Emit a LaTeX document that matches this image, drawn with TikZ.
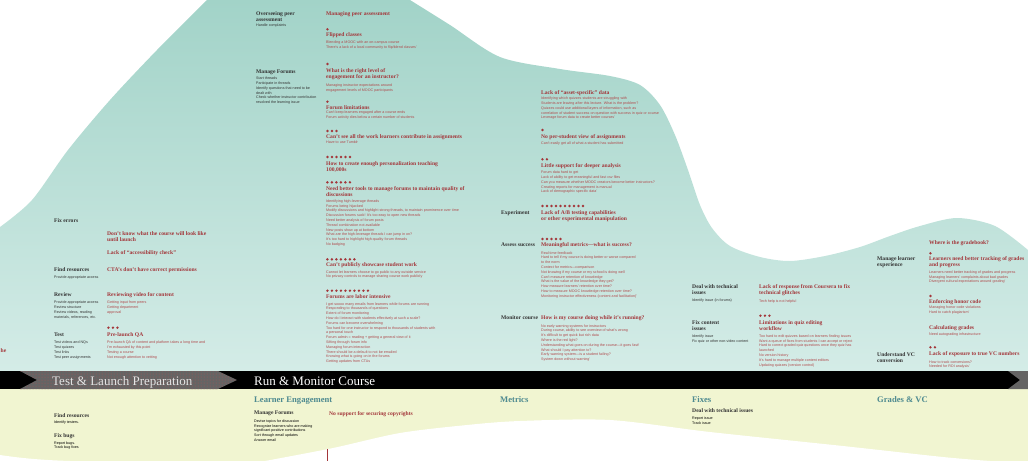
\documentclass[tikz,border=0pt]{standalone}
\usepackage{fontspec}
\setmainfont{Liberation Serif}
\setsansfont{Liberation Sans}
\usetikzlibrary{patterns}
\definecolor{tealtop}{HTML}{A2D3C8}
\definecolor{tealbot}{HTML}{D4ECE7}
\definecolor{cream}{HTML}{F1F5D1}
\definecolor{chevgray}{HTML}{656464}
\definecolor{painred}{HTML}{A3363A}
\definecolor{notered}{HTML}{B04A4C}
\definecolor{labelgray}{HTML}{333333}
\definecolor{stageteal}{HTML}{4E8A90}
\definecolor{phasegray}{HTML}{E4E4E4}

\tikzset{
  lbl/.style={anchor=north west, inner sep=0pt, align=left, text=labelgray,
    font=\fontsize{5.6}{6}\selectfont\bfseries},
  pain/.style={lbl, text=painred},
  note/.style={anchor=north west, inner sep=0pt, align=left, text=notered,
    font=\sffamily\fontsize{3.65}{4.8}\selectfont},
  darknote/.style={note, text=labelgray},
  blacknote/.style={note, text=black},
  phase/.style={anchor=base west, inner sep=0pt, text=white,
    font=\fontsize{13}{13}\selectfont},
  stage/.style={anchor=base west, inner sep=0pt, text=stageteal,
    font=\fontsize{8.6}{9}\selectfont\bfseries},
}
\newcommand{\votes}[3]{\foreach \k in {1,...,#3}{\fill[painred] ({#1+4.5*(\k-1)},#2) circle (1.35pt);}}

\begin{document}
\begin{tikzpicture}[x=1pt,y=-1pt]
\useasboundingbox (0,0) rectangle (1028,461);
% teal wave
\shade[top color=tealtop, bottom color=tealbot] (0,371) -- (0,227)
  -- plot[smooth] coordinates {(0,227) (32,200) (68,150) (110,100) (157,50) (207,0)}
  -- (410,0)
  -- plot[smooth] coordinates {(410,0) (450,25) (500,57) (560,69) (610,76) (640,85) (660,105) (675,135) (688,170) (700,205) (712,228) (730,246) (760,257) (790,261) (825,256) (860,247) (890,236) (920,226) (957,218) (995,226) (1028,250)}
  -- (1028,371) -- cycle;
% cream
\fill[cream] (0,389) rectangle (1028,461);
\fill[white] (265,461) -- plot[smooth] coordinates {(265,461) (333,448) (400,433) (467,425) (520,421) (610,420) (710,432) (843,446) (943,457) (990,461)} -- cycle;
\fill[white] (0,455) .. controls (20,458) and (40,460) .. (70,461) -- (0,461) -- cycle;
\draw[painred, line width=0.8pt] (327,449) -- (327,461);
% band
\fill[black] (0,371) rectangle (1028,389);
\fill[chevgray] (20,371) -- (218,371) -- (237,380) -- (218,389) -- (20,389) -- (37,380) -- cycle;
\fill[pattern=dots, pattern color=red!35!gray] (20,371) -- (218,371) -- (237,380) -- (218,389) -- (20,389) -- (37,380) -- cycle;
\fill[chevgray] (1008,371) -- (1028,371) -- (1028,389) -- (1008,389) -- (1020,380) -- cycle;
\node[phase, text=phasegray] (prep) at (52,385) {Test \& Launch Preparation};
\node[phase] (runmon) at (254,385) {Run \& Monitor Course};

% test & launch
\node[lbl] (fixerr) at (54,218.8) {Fix errors};
\node[pain] (dontknow) at (107,231.1) {Don’t know what the course will look like\\until launch};
\node[pain] (a11y) at (107,250.5) {Lack of “accessibility check”};
\node[lbl] (findres) at (54,267.8) {Find resources};
\node[darknote] (findres-n) at (54,275.8) {Provide appropriate access};
\node[pain] (cta) at (107,267.8) {CTA’s don’t have correct permissions};
\node[lbl] (review) at (54,292.8) {Review};
\node[darknote] (review-n) at (54,300.8) {Provide appropriate access\\Review structure\\Review videos, reading\\materials, references, etc.};
\node[pain] (revvid) at (107,292.8) {Reviewing video for content};
\node[note] (revvid-n) at (107,300.8) {Getting input from peers\\Getting department\\approval};
\votes{108.4}{327.7}{3}
\node[lbl] (test) at (54,332.8) {Test};
\node[darknote] (test-n) at (54,340.8) {Test videos and NQs\\Test quizzes\\Test links\\Test peer assignments};
\node[pain] (qa) at (107,332.8) {Pre-launch QA};
\node[note] (qa-n) at (107,340.8) {Pre-launch QA of content and platform takes a long time and\\I’m exhausted by this point\\Testing a course\\Not enough attention to vetting};
\node[pain, anchor=north east] (cut) at (6.5,348.8) {he};

% learner engagement
\node[lbl] (oversee) at (256,11.8) {Overseeing peer\\assessment};
\node[darknote] (oversee-n) at (256,23.8) {Handle complaints};
\node[pain] (peerass) at (326,11.8) {Managing peer assessment};
\votes{327.4}{29.3}{1}
\node[pain] (flipped) at (326,32.8) {Flipped classes};
\node[note] (flipped-n) at (326,40.8) {Blending a MOOC with an on-campus course\\There’s a lack of a local community to flip/blend classes’};
\node[lbl] (forums) at (256,69.5) {Manage Forums};
\node[darknote] (forums-n) at (256,76.8) {Start threads\\Participate in threads\\Identify questions that need to be\\dealt with\\Check whether instructor contribution\\resolved the learning issue};
\votes{327.4}{64}{1}
\node[pain] (engage) at (326,68.8) {What is the right level of\\engagement for an instructor?};
\node[note] (engage-n) at (326,83.5) {Managing instructor expectations around\\engagement levels of MOOC participants};
\votes{327.4}{101.7}{1}
\node[pain] (forumlim) at (326,105.1) {Forum limitations};
\node[note] (forumlim-n) at (326,110.8) {Can’t keep learners engaged after a course ends\\Forum activity dies below a certain number of students};
\votes{327.4}{131}{3}
\node[pain] (seework) at (326,134.5) {Can’t see all the work learners contribute in assignments};
\node[note] (seework-n) at (326,140.8) {Have to use Tumblr};
\votes{327.4}{157}{6}
\node[pain] (personal) at (326,161.8) {How to create enough personalization teaching\\100,000s};
\votes{327.4}{182.3}{6}
\node[pain] (tools) at (326,186.1) {Need better tools to manage forums to maintain quality of\\discussions};
\node[note] (tools-n) at (326,199.5) {Identifying high-leverage threads\\Forums being hijacked\\Modify discussions and highlight strong threads, to maintain prominence over time\\Discussion forums suck! It’s too easy to open new threads\\Need better analysis of forum posts\\Thread combination not available\\New posts show up at bottom\\What are the high-leverage threads I can jump in on?\\It’s too hard to highlight high-quality forum threads\\No badging};
\votes{327.4}{259.3}{7}
\node[pain] (showcase) at (326,262.8) {Can’t publicly showcase student work};
\node[note] (showcase-n) at (326,270.2) {Cannot let learners choose to go public to any outside service\\No privacy controls to manage sharing course work publicly};
\votes{327.4}{290.7}{10}
\node[pain] (labor) at (326,294.5) {Forums are labor intensive};
\node[note] (labor-n) at (326,302.2) {I get soooo many emails from learners while forums are running\\Responding to thousands of questions\\Extent of forum monitoring\\How do I interact with students effectively at such a scale?\\Forums can become overwhelming\\Too hard for one instructor to respond to thousands of students with\\a personal touch\\Forum admin = reading + getting a general view of it\\Sifting through forum info\\Managing forum interaction\\There should be a default to not be emailed\\Knowing what is going on in the forums\\Getting updates from CTAs};

% metrics
\node[pain] (asset) at (541,90.1) {Lack of “asset-specific” data};
\node[note] (asset-n) at (541,96.8) {Identifying which quizzes students are struggling with\\Students are leaving after this lecture. What is the problem?\\Quizzes could use additional layers of information, such as\\correlation of student success on question with success in quiz or course\\Leverage forum data to create better courses’};
\votes{542.4}{130}{1}
\node[pain] (perstud) at (541,134.5) {No per-student view of assignments};
\node[note] (perstud-n) at (541,141.5) {Can’t easily get all of what a student has submitted};
\votes{542.4}{159.3}{2}
\node[pain] (deeper) at (541,163.8) {Little support for deeper analysis};
\node[note] (deeper-n) at (541,170.8) {Forum data hard to get\\Lack of ability to get meaningful and fast csv files\\Can you measure whether MOOC creators become better instructors?\\Creating reports for management is manual\\Lack of demographic specific data’};
\votes{542.4}{206}{10}
\node[lbl] (experiment) at (501,210.5) {Experiment};
\node[pain] (abtest) at (541,210.1) {Lack of A/B testing capabilities\\or other experimental manipulation};
\votes{542.4}{239}{5}
\node[lbl] (assess) at (501,242.5) {Assess success};
\node[pain] (meaning) at (541,242.5) {Meaningful metrics—what is success?};
\node[note] (meaning-n) at (541,251.2) {Real time feedback\\Hard to tell if my course is doing better or worse compared\\to the norm\\Context for metrics—comparison\\Not knowing if my course or my school is doing well\\Can’t measure retention of knowledge\\What is the value of the knowledge they get?\\How measure learners’ retention over time?\\How to measure MOOC knowledge retention over time?\\Monitoring instructor effectiveness (content and facilitation)’};
\node[lbl] (monitor) at (501,315.1) {Monitor course};
\node[pain] (running) at (541,315.1) {How is my course doing while it’s running?};
\node[note] (running-n) at (541,324.2) {No early warning systems for instructors\\During course, ability to see overview of what’s wrong\\It’s difficult to get quick but rich data\\Where is the red light?\\Understanding what goes on during the course—it goes fast!\\What should I pay attention to?\\Early warning system—is a student failing?\\System down without warning’};

% fixes
\node[lbl] (dealtech) at (692,284.5) {Deal with technical\\issues};
\node[darknote] (dealtech-n) at (692,298.8) {Identify issue (in forums)};
\node[pain] (coursera) at (759,284.5) {Lack of response from Coursera to fix\\technical glitches};
\node[note] (coursera-n) at (759,299.2) {Tech help is not helpful};
\node[lbl] (fixcont) at (692,320.1) {Fix content\\issues};
\node[darknote] (fixcont-n) at (692,334.5) {Identify issue\\Fix quiz or other non-video content};
\votes{760.4}{315.7}{3}
\node[pain] (quizedit) at (759,320.1) {Limitations in quiz editing\\workflow};
\node[note] (quizedit-n) at (759,334.5) {Too hard to edit quizzes based on learners finding issues\\Want a queue of fixes from students I can accept or reject\\Hard to correct graded quiz questions once they quiz has\\launched\\No version history\\It’s hard to manage multiple content editors\\Updating quizzes (version control)};

% grades & vc
\node[pain] (gradebook) at (929,240.5) {Where is the gradebook?};
\node[lbl] (learnexp) at (877,256.8) {Manage learner\\experience};
\votes{930.4}{253.3}{1}
\node[pain] (tracking) at (929,256.8) {Learners need better tracking of grades\\and progress};
\node[note] (tracking-n) at (929,270.5) {Learners need better tracking of grades and progress\\Managing learners’ complaints about bad grades\\Divergent cultural expectations around grading’};
\votes{930.4}{296}{1}
\node[pain] (honor) at (929,299.1) {Enforcing honor code};
\node[note] (honor-n) at (929,305.5) {Managing honor code violations\\Hard to catch plagiarism’};
\node[pain] (calc) at (929,325.1) {Calculating grades};
\node[note] (calc-n) at (929,332.5) {Need autograding infrastructure};
\votes{930.4}{347.3}{2}
\node[lbl] (vcconv) at (877,352.1) {Understand VC\\conversion};
\node[pain] (vcnum) at (929,351.8) {Lack of exposure to true VC numbers};
\node[note] (vcnum-n) at (929,360.2) {How to track conversions?\\Needed for ROI analysis’};

% lower stages
\node[stage] (engage-s) at (254,402) {Learner Engagement};
\node[stage] (metrics-s) at (500,402) {Metrics};
\node[stage] (fixes-s) at (692,402) {Fixes};
\node[stage] (grades-s) at (877,402) {Grades \& VC};
\node[lbl] (findres2) at (54,413.6) {Find resources};
\node[blacknote] (findres2-n) at (54,420.5) {Identify testers.};
\node[lbl] (bugs) at (54,433.8) {Fix bugs};
\node[blacknote] (bugs-n) at (54,441.2) {Report bugs.\\Track bug fixes};
\node[lbl] (forums2) at (254,411.1) {Manage Forums};
\node[blacknote] (forums2-n) at (254,419.5) {Devise topics for discussion\\Recognize learners who are making\\significant positive contributions\\Sort through email updates\\Answer email};
\node[pain] (copyright) at (329,411.1) {No support for securing copyrights};
\node[lbl] (dealtech2) at (692,408.5) {Deal with technical issues};
\node[blacknote] (dealtech2-n) at (692,416.5) {Report issue\\Track issue};
\end{tikzpicture}
\end{document}
